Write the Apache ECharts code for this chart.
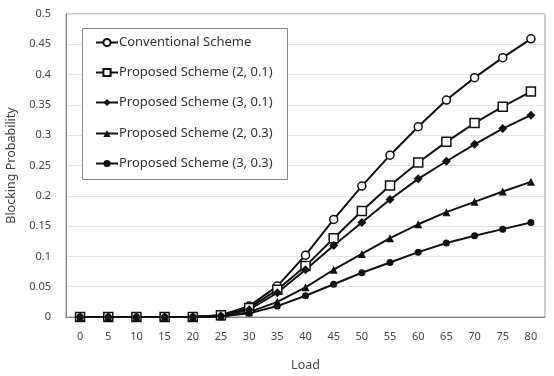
<!DOCTYPE html>
<html>
<head>
<meta charset="utf-8">
<script src="https://cdn.jsdelivr.net/npm/echarts@6/dist/echarts.min.js"></script>
<style>
  html, body { margin: 0; padding: 0; background: #fff; }
  #chart { width: 554px; height: 376px; }
</style>
</head>
<body>
<div id="chart"></div>
<script>
// load values on the x axis
const loads = ['0', '5', '10', '15', '20', '25', '30', '35', '40', '45', '50', '55', '60', '65', '70', '75', '80']

// blocking probability per scheme
const conventional = [0, 0, 0, 0, 0, 0.003, 0.018, 0.051, 0.102, 0.161, 0.216, 0.267, 0.314, 0.358, 0.395, 0.428, 0.459]
const proposed2_01 = [0, 0, 0, 0, 0, 0.003, 0.015, 0.045, 0.084, 0.130, 0.175, 0.217, 0.255, 0.289, 0.320, 0.347, 0.372]
const proposed3_01 = [0, 0, 0, 0, 0, 0.002, 0.012, 0.040, 0.078, 0.118, 0.156, 0.194, 0.228, 0.257, 0.285, 0.311, 0.333]
const proposed2_03 = [0, 0, 0, 0, 0, 0.001, 0.008, 0.025, 0.049, 0.078, 0.104, 0.130, 0.153, 0.173, 0.190, 0.207, 0.223]
const proposed3_03 = [0, 0, 0, 0, 0, 0.001, 0.006, 0.018, 0.035, 0.054, 0.073, 0.090, 0.107, 0.122, 0.134, 0.145, 0.156]

const names = ['Conventional Scheme', 'Proposed Scheme (2, 0.1)', 'Proposed Scheme (3, 0.1)', 'Proposed Scheme (2, 0.3)', 'Proposed Scheme (3, 0.3)']
const yTicks = ['0', '0.05', '0.1', '0.15', '0.2', '0.25', '0.3', '0.35', '0.4', '0.45', '0.5']

const font = 'Noto Sans'

function makeSeries(name, data, symbol, size, hollow) {
  return {
    name: name,
    type: 'line',
    data: data,
    symbol: symbol,
    symbolSize: size,
    showSymbol: true,
    lineStyle: { color: '#111', width: 2 },
    itemStyle: {
      color: hollow ? '#fff' : '#111',
      borderColor: '#111',
      borderWidth: hollow ? 1.5 : 0
    },
    emphasis: { disabled: true },
    animation: false
  }
}

// one legend per row so the rows sit evenly, the box is drawn as a graphic
const legendTops = [36, 66, 96, 127, 157]
const legends = names.map(function (n, i) {
  return {
    data: [n],
    left: 95,
    top: legendTops[i],
    padding: 0,
    z: 10,
    itemWidth: 22,
    itemHeight: 9,
    textStyle: { fontFamily: font, fontSize: 13, color: '#333', padding: [0, 0, 0, -4] }
  }
})

const chart = echarts.init(document.getElementById('chart'))
chart.setOption({
  animation: false,
  textStyle: { fontFamily: font },
  grid: {
    left: 66, top: 14, right: 9, bottom: 59,
    outerBoundsMode: 'none',
    show: true, borderColor: '#999', borderWidth: 1
  },
  graphic: [{
    type: 'rect',
    left: 82, top: 28,
    shape: { width: 205, height: 151 },
    style: { fill: '#fff', stroke: '#888', lineWidth: 1 },
    z: 3
  }],
  legend: legends,
  xAxis: {
    type: 'category',
    data: loads,
    boundaryGap: true,
    name: 'Load',
    nameLocation: 'middle',
    nameGap: 42,
    nameTextStyle: { fontFamily: font, fontSize: 12.5, color: '#444' },
    axisLine: { lineStyle: { color: '#888' } },
    axisTick: { show: false },
    axisLabel: { fontFamily: font, fontSize: 11, color: '#444', margin: 14 },
    splitLine: { show: false }
  },
  yAxis: {
    type: 'value',
    min: 0,
    max: 0.5,
    interval: 0.05,
    name: 'Blocking Probability',
    nameLocation: 'middle',
    nameGap: 45,
    nameTextStyle: { fontFamily: font, fontSize: 12.5, color: '#444' },
    axisLine: { show: true, lineStyle: { color: '#888' } },
    axisTick: { show: false },
    axisLabel: {
      fontFamily: font, fontSize: 11, color: '#444', margin: 15,
      formatter: function (v) { return yTicks[Math.round(v / 0.05)] }
    },
    splitLine: { lineStyle: { color: '#e4e4e4' } }
  },
  series: [
    makeSeries(names[0], conventional, 'circle', 8, true),
    makeSeries(names[1], proposed2_01, 'rect', 9, true),
    makeSeries(names[2], proposed3_01, 'diamond', 9, false),
    makeSeries(names[3], proposed2_03, 'triangle', 8, false),
    makeSeries(names[4], proposed3_03, 'circle', 7, false)
  ]
})
</script>
</body>
</html>
